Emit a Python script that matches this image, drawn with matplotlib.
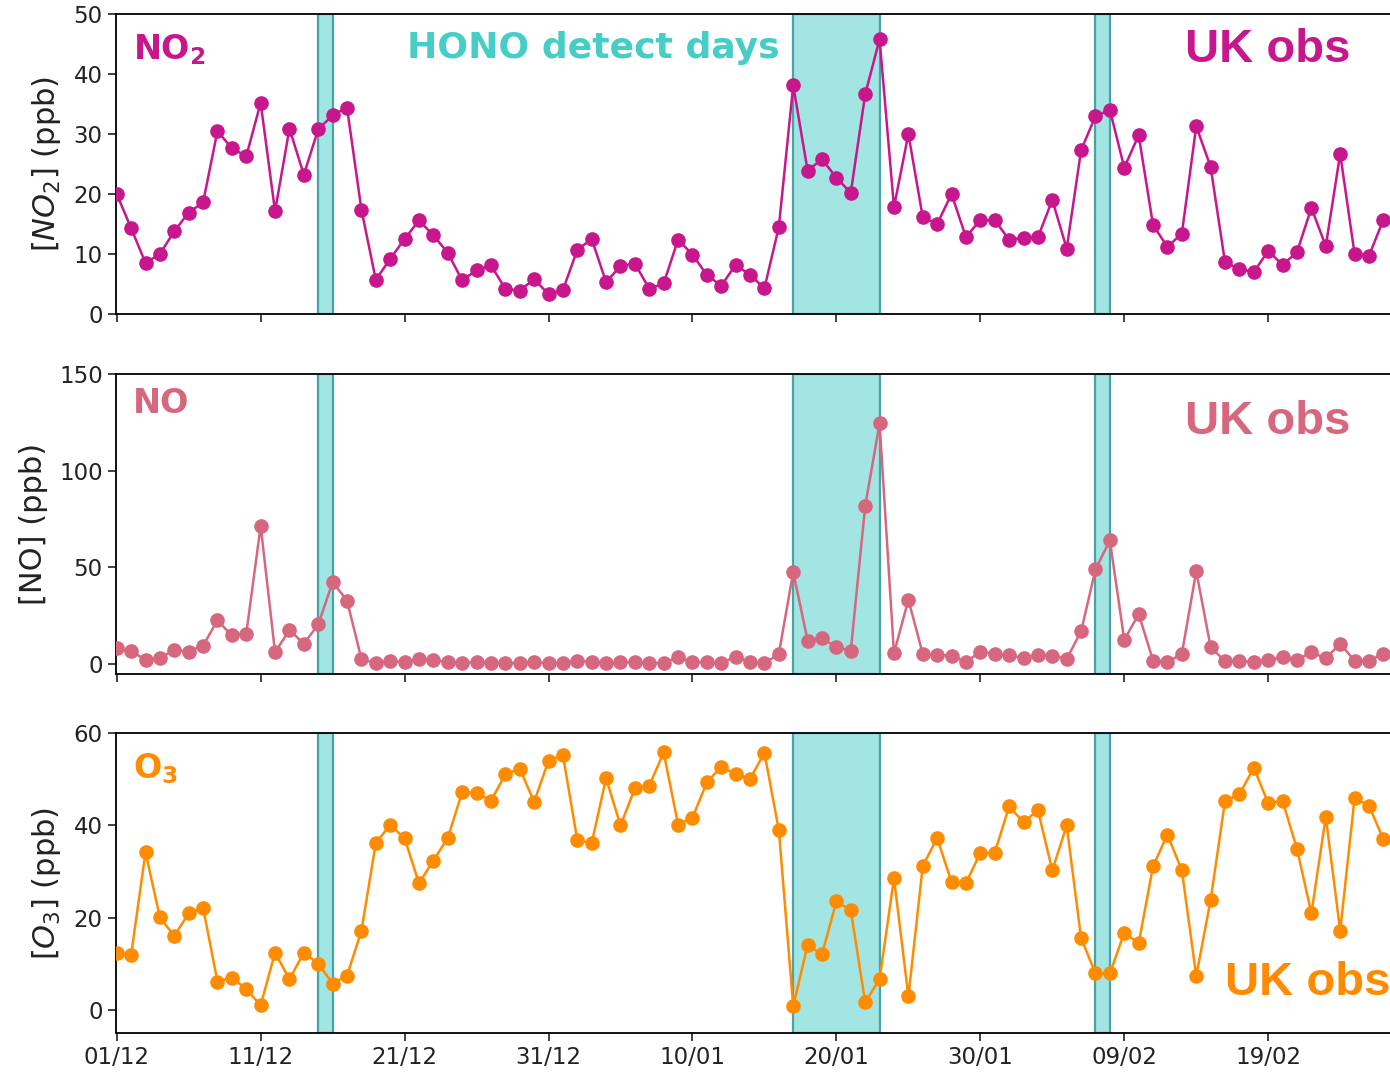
import numpy as np
import matplotlib
matplotlib.use("Agg")
import matplotlib.pyplot as plt

# daily means, day 0 = 01/12
no2 = [20.0, 14.3, 8.5, 10.0, 13.8, 16.9, 18.6, 30.5, 27.6, 26.3,
       35.2, 17.1, 30.9, 23.2, 30.8, 33.1, 34.4, 17.4, 5.7, 9.2,
       12.5, 15.6, 13.1, 10.2, 5.6, 7.3, 8.1, 4.2, 3.9, 5.8,
       3.3, 4.0, 10.7, 12.5, 5.3, 8.0, 8.4, 4.2, 5.1, 12.4,
       9.9, 6.5, 4.7, 8.2, 6.5, 4.3, 14.5, 38.1, 23.9, 25.8,
       22.7, 20.2, 36.6, 45.8, 17.8, 30.0, 16.1, 15.0, 20.0, 12.8,
       15.7, 15.6, 12.4, 12.7, 12.8, 19.0, 10.9, 27.3, 33.0, 34.0,
       24.4, 29.8, 14.8, 11.2, 13.4, 31.3, 24.5, 8.6, 7.5, 7.0,
       10.5, 8.2, 10.3, 17.7, 11.3, 26.7, 10.0, 9.7, 15.7]

no = [8.3, 6.6, 2.1, 2.9, 7.4, 6.4, 9.5, 22.5, 14.7, 15.6,
      71.4, 6.0, 17.6, 10.4, 20.4, 42.3, 32.8, 2.6, 0.3, 1.4,
      0.9, 2.6, 2.1, 0.9, 0.3, 1.2, 0.7, 0.3, 0.7, 0.9,
      0.3, 0.5, 1.7, 1.2, 0.5, 0.9, 0.9, 0.3, 0.5, 3.5,
      0.9, 0.9, 0.3, 3.8, 0.9, 0.3, 5.2, 47.5, 12.1, 13.3,
      8.6, 6.9, 81.7, 124.4, 5.5, 33.2, 5.2, 4.7, 4.3, 0.9,
      6.4, 5.2, 4.7, 2.9, 4.8, 4.3, 2.6, 16.9, 48.9, 63.9,
      12.4, 25.9, 1.7, 0.9, 5.2, 48.0, 8.6, 1.4, 1.7, 0.9,
      2.1, 3.5, 2.1, 6.0, 2.9, 10.4, 1.7, 1.7, 5.2]

o3 = [12.3, 12.0, 34.2, 20.1, 16.1, 21.0, 22.2, 6.2, 7.1, 4.6,
      1.1, 12.5, 6.7, 12.5, 10.1, 5.8, 7.5, 17.2, 36.2, 40.1,
      37.2, 27.5, 32.4, 37.3, 47.2, 47.1, 45.3, 51.1, 52.3, 45.1,
      54.0, 55.2, 36.8, 36.2, 50.2, 40.0, 48.0, 48.6, 55.8, 40.2,
      41.7, 49.3, 52.7, 51.1, 50.1, 55.7, 39.0, 0.9, 14.1, 12.1,
      23.6, 21.6, 1.8, 6.7, 28.6, 3.0, 31.2, 37.3, 27.7, 27.5,
      34.1, 34.1, 44.1, 40.7, 43.3, 30.3, 40.0, 15.6, 8.0, 8.0,
      16.8, 14.5, 31.2, 38.0, 30.3, 7.4, 23.9, 45.3, 46.7, 52.5,
      44.8, 45.3, 34.9, 21.0, 41.9, 17.2, 45.9, 44.3, 37.0]

days = np.arange(len(no2))

# HONO detection periods (start day, end day)
hono_start = [14, 47, 68]
hono_end = [15, 53, 69]

tick_days = [0, 10, 20, 30, 40, 50, 60, 70, 80]
tick_labels = ['01/12', '11/12', '21/12', '31/12', '10/01',
               '20/01', '30/01', '09/02', '19/02']

c_no2 = '#c8168c'
c_no = '#d6677f'
c_o3 = '#ff8c00'
c_hono = '#45cdc6'

panels = [
    (no2, c_no2, r'$[NO_2]$ (ppb)', r'$\mathbf{NO_2}$', (0, 50), [0, 10, 20, 30, 40, 50], 0.88),
    (no, c_no, '[NO] (ppb)', 'NO', (-5.2, 150), [0, 50, 100, 150], 0.84),
    (o3, c_o3, r'$[O_3]$ (ppb)', r'$\mathbf{O_3}$', (-4.9, 60), [0, 20, 40, 60], 0.165),
]

fig = plt.figure(figsize=(13.9, 10.72), dpi=100)
bottoms = [0.7071, 0.3713, 0.0364]
left = 116 / 1390
width = (1392 - 116) / 1390
height = 300 / 1072

for i, (vals, col, ylab, name, ylim, yt, uk_y) in enumerate(panels):
    ax = fig.add_axes([left, bottoms[i], width, height])
    for s, e in zip(hono_start, hono_end):
        ax.axvspan(s, e, facecolor='#a2e5e2', edgecolor='#4aa3a3', linewidth=1.6, zorder=1)
    ax.plot(days, vals, '-o', color=col, lw=1.8, ms=9.5, zorder=3)
    ax.set_xlim(-0.05, 88.6)
    ax.set_ylim(*ylim)
    ax.set_yticks(yt)
    ax.set_xticks(tick_days)
    if i == 2:
        ax.set_xticklabels(tick_labels)
    else:
        ax.set_xticklabels([])
    ax.tick_params(labelsize=16.5, length=6, width=1.2, colors='#222222')
    for sp in ax.spines.values():
        sp.set_linewidth(1.3)
    ax.set_ylabel(ylab, fontsize=22, color='#222222', labelpad=8)

    name_y = 0.88 if i != 1 else 0.9
    ax.text(0.013, name_y, name, transform=ax.transAxes, color=col,
            fontsize=24, fontweight='bold', va='center', ha='left')

    uk_x = 74.2 if i < 2 else 77.0
    ax.text(uk_x, uk_y, 'UK obs', transform=ax.get_xaxis_transform(),
            color=col, fontsize=34, fontweight='bold', va='center', ha='left',
            family='Liberation Sans', zorder=5)

    if i == 0:
        ax.text(33.1, 0.885, 'HONO detect days', transform=ax.get_xaxis_transform(),
                color=c_hono, fontsize=26, fontweight='bold', va='center', ha='center')

fig.savefig('out.png', dpi=100)
